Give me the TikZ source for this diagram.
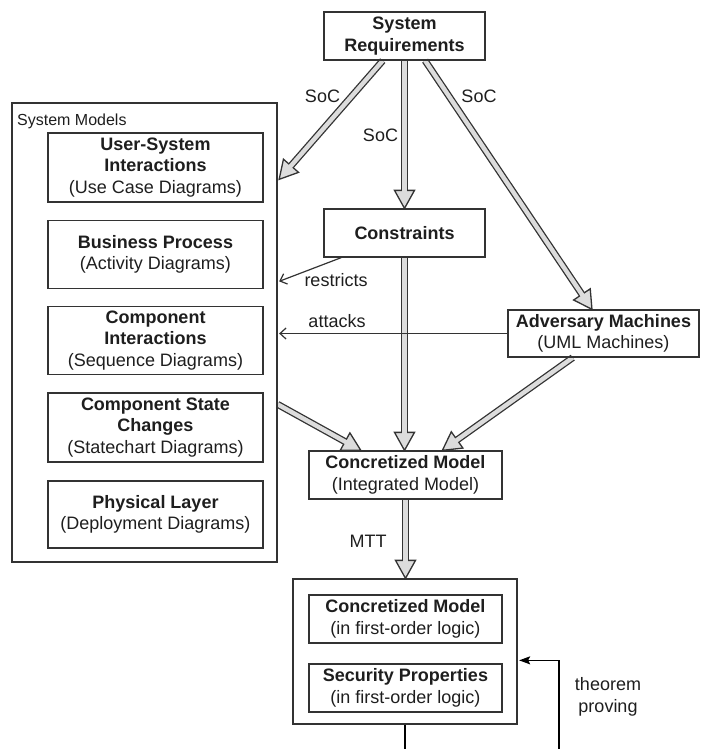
\documentclass[tikz,border=0pt]{standalone}
\usepackage{fontspec}
\setmainfont{Liberation Sans}
\usetikzlibrary{arrows.meta,calc}

\definecolor{ink}{HTML}{333333}
\definecolor{shaft}{HTML}{DCDCDC}
\definecolor{txt}{HTML}{1E1E1E}

\pgfdeclarelayer{bg}
\pgfsetlayers{bg,main}

% hollow block arrow: dark outline, light grey body, triangular head
\newcommand\fatlink[2]{%
  \draw[fatout] (#1) -- ($(#2)!18pt!(#1)$);
  \filldraw[fathead] (#2) -- ($(#2)!18pt!(#1)!10pt!90:(#1)$)
                          -- ($(#2)!18pt!(#1)!10pt!-90:(#1)$) -- cycle;
  \draw[fatin] (#1) -- ($(#2)!16.5pt!(#1)$);
}

\tikzset{
  box/.style={draw=ink, line width=1.3pt, align=center, inner sep=0pt,
    text=txt, font=\fontsize{18}{21.6}\selectfont},
  frame/.style={draw=ink, line width=1.3pt, inner sep=0pt},
  lbl/.style={text=txt, inner sep=0pt, font=\fontsize{18}{21.6}\selectfont, align=center},
  fatout/.style={draw=ink, line width=7pt},
  fatin/.style={draw=shaft, line width=4.4pt},
  fathead/.style={draw=ink, fill=shaft, line width=1.3pt, line join=miter},
  thin/.style={draw=ink, line width=1.2pt,
    -{Straight Barb[length=6pt,width=11pt,line width=1.2pt]}},
  solidtip/.style={draw=black, line width=1.2pt,
    -{Stealth[length=11pt,width=8pt,inset=2pt]}},
}

\begin{document}
\begin{tikzpicture}[x=1pt,y=-1pt]
\useasboundingbox (0,0) rectangle (702,749);

% system models group
\node[frame, minimum width=265pt, minimum height=459pt] (sysm) at (144.5,332.5) {};
\node[text=txt, inner sep=0pt, anchor=west, font=\fontsize{16}{19}\selectfont]
  (sysmlabel) at (17,121) {System Models};
\node[box, minimum width=215pt, minimum height=69pt] (usi) at (155.5,167.5)
  {\textbf{User-System}\\\textbf{Interactions}\\(Use Case Diagrams)};
\node[box, minimum width=215pt, minimum height=68pt] (bp) at (155.5,254.5)
  {\textbf{Business Process}\\(Activity Diagrams)};
\node[box, minimum width=215pt, minimum height=68pt] (ci) at (155.5,340.5)
  {\textbf{Component}\\\textbf{Interactions}\\(Sequence Diagrams)};
\node[box, minimum width=215pt, minimum height=69pt] (csc) at (155.5,427.5)
  {\textbf{Component State}\\\textbf{Changes}\\(Statechart Diagrams)};
\node[box, minimum width=215pt, minimum height=67pt] (pl) at (155.5,514.5)
  {\textbf{Physical Layer}\\(Deployment Diagrams)};

% main column
\node[box, minimum width=161pt, minimum height=48pt] (req) at (404.5,36)
  {\textbf{System}\\\textbf{Requirements}};
\node[box, minimum width=161pt, minimum height=48pt] (con) at (404.5,233)
  {\textbf{Constraints}};
\node[box, minimum width=191pt, minimum height=47pt] (adv) at (603.5,333.5)
  {\textbf{Adversary Machines}\\(UML Machines)};
\node[box, minimum width=193pt, minimum height=48pt] (cm) at (405.5,475)
  {\textbf{Concretized Model}\\(Integrated Model)};

% first-order logic group
\node[frame, minimum width=224pt, minimum height=145pt] (big) at (405,651.5) {};
\node[box, minimum width=193pt, minimum height=48pt] (fol) at (405.5,619)
  {\textbf{Concretized Model}\\(in first-order logic)};
\node[box, minimum width=193pt, minimum height=48pt] (sp) at (405.5,688)
  {\textbf{Security Properties}\\(in first-order logic)};

% arrow end points on the boxes
\coordinate (a1) at ($(req.south west)!0.366!(req.south east)$);
\coordinate (b1) at ($(sysm.north east)+(1.5,77)$);
\coordinate (a3) at ($(req.south west)!0.627!(req.south east)$);
\coordinate (b3) at ($(adv.north west)!0.44!(adv.north east)$);
\coordinate (b4) at (con.south |- cm.north);
\coordinate (a5) at ($(adv.south west)!0.34!(adv.south east)$);
\coordinate (b5) at ($(cm.north west)!0.69!(cm.north east)$);
\coordinate (a6) at ($(sysm.north east)+(0,302)$);
\coordinate (b6) at ($(cm.north west)!0.27!(cm.north east)$);
\coordinate (b7) at (cm.south |- big.north);

\begin{pgfonlayer}{bg}
  \fatlink{a1}{b1}
  \fatlink{req.south}{con.north}
  \fatlink{a3}{b3}
  \fatlink{con.south}{b4}
  \fatlink{a5}{b5}
  \fatlink{a6}{b6}
  \fatlink{cm.south}{b7}
\end{pgfonlayer}

% thin relations
\coordinate (r0) at ($(con.south west)!0.11!(con.south east)$);
\coordinate (r1) at ($(sysm.north east)+(1.5,179)$);
\draw[thin] (r0) -- (r1);
\draw[thin] (adv.west) -- ($(adv.west -| sysm.east)+(1.5,0)$);

% theorem proving loop
\coordinate (fb) at (559,749);
\draw[draw=black, line width=1.2pt] (big.south) -- (big.south |- fb);
\draw[solidtip] (fb) |- ($(big.north east)+(1.5,82)$);

% labels
\node[lbl] (soc1) at (322.5,96) {SoC};
\node[lbl] (soc2) at (380.5,135) {SoC};
\node[lbl] (soc3) at (479,96) {SoC};
\node[lbl] (lres) at (336,280) {restricts};
\node[lbl] (latt) at (337,321) {attacks};
\node[lbl] (lmtt) at (368,541) {MTT};
\node[lbl] (lthm) at (608,697) {theorem\\proving};
\end{tikzpicture}
\end{document}
